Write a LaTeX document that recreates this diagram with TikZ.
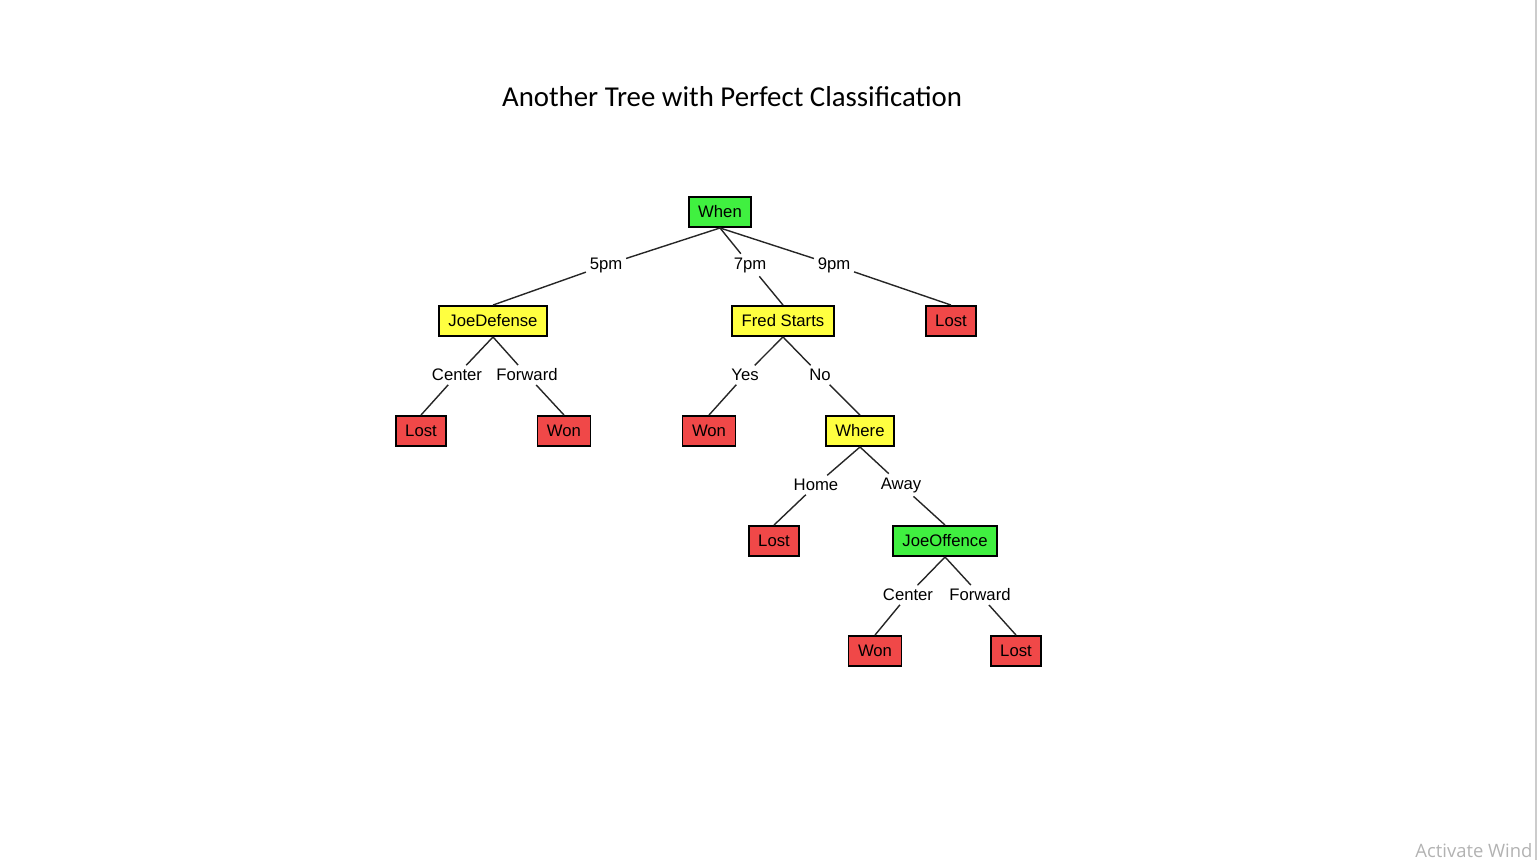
\documentclass[tikz,border=0pt]{standalone}
\usepackage{fontspec}
\setmainfont{Liberation Sans}
\newfontfamily\titlefont{Carlito}
\newfontfamily\winfont{Open Sans}

\definecolor{leafred}{RGB}{240,72,72}
\definecolor{testyellow}{RGB}{255,255,64}
\definecolor{testgreen}{RGB}{64,240,64}

\begin{document}
\begin{tikzpicture}[
  % one unit is one pixel of the screenshot, y goes down
  x=0.02cm, y=-0.02cm,
  box/.style={
    % The shape:
    rectangle,
    % The size:
    minimum height=0.6cm,
    inner xsep=0.19cm,
    % The border:
    draw=black,
    line width=1.1pt,
    % Font
    font=\fontsize{9.5}{11}\selectfont
  },
  leaf/.style={box, fill=leafred},
  test/.style={box, fill=testyellow},
  root/.style={box, fill=testgreen},
  branch/.style={
    % the value on an edge
    font=\fontsize{9.5}{11}\selectfont,
    inner sep=0.07cm
  },
  edge/.style={line width=0.8pt, black!85}
  ]

  \useasboundingbox (0,0) rectangle (1538,860);

  % title
  \node (title) [font=\titlefont\fontsize{16.4}{19}\selectfont] at (732,97) {Another Tree with Perfect Classification};

  % the tests
  \node (when) [root] at (720,212) {When};
  \node (joedef) [test] at (493,321) {JoeDefense};
  \node (fred) [test] at (783,321) {Fred Starts};
  \node (where) [test] at (860,431) {Where};
  \node (joeoff) [root] at (945,541) {JoeOffence};

  % the leaves
  \node (lost9) [leaf] at (951,321) {Lost};
  \node (lostc) [leaf] at (421,431) {Lost};
  \node (wonf) [leaf] at (564,431) {Won};
  \node (wony) [leaf] at (709,431) {Won};
  \node (losth) [leaf] at (774,541) {Lost};
  \node (wonc) [leaf] at (875,651) {Won};
  \node (lostf) [leaf] at (1016,651) {Lost};

  % values on the branches
  \node (b5pm) [branch] at (606,265) {5pm};
  \node (b7pm) [branch] at (750,265) {7pm};
  \node (b9pm) [branch] at (834,265) {9pm};
  \node (bcenter) [branch] at (457,375) {Center};
  \node (bforward) [branch] at (527,375) {Forward};
  \node (byes) [branch] at (745,375) {Yes};
  \node (bno) [branch] at (820,375) {No};
  \node (bhome) [branch] at (816,485) {Home};
  \node (baway) [branch] at (901,485) {Away};
  \node (bcenter2) [branch] at (908,595) {Center};
  \node (bforward2) [branch] at (980,595) {Forward};

  % branches, broken by their values
  \draw [edge] (when.south) -- (b5pm) -- (joedef.north);
  \draw [edge] (when.south) -- (b7pm) -- (fred.north);
  \draw [edge] (when.south) -- (b9pm) -- (lost9.north);
  \draw [edge] (joedef.south) -- (bcenter) -- (lostc.north);
  \draw [edge] (joedef.south) -- (bforward) -- (wonf.north);
  \draw [edge] (fred.south) -- (byes) -- (wony.north);
  \draw [edge] (fred.south) -- (bno) -- (where.north);
  \draw [edge] (where.south) -- (bhome) -- (losth.north);
  \draw [edge] (where.south) -- (baway) -- (joeoff.north);
  \draw [edge] (joeoff.south) -- (bcenter2) -- (wonc.north);
  \draw [edge] (joeoff.south) -- (bforward2) -- (lostf.north);

  % screen edge and watermark
  \coordinate (edgetop) at (1536,0);
  \coordinate (edgebot) at (1536,860);
  \draw [black!20, line width=1.2pt] (edgetop) -- (edgebot);
  \node (watermark) [anchor=west, text=black!30, font=\winfont\fontsize{10.5}{12}\selectfont, inner sep=0] at (1415,851) {Activate Wind};

\end{tikzpicture}
\end{document}
